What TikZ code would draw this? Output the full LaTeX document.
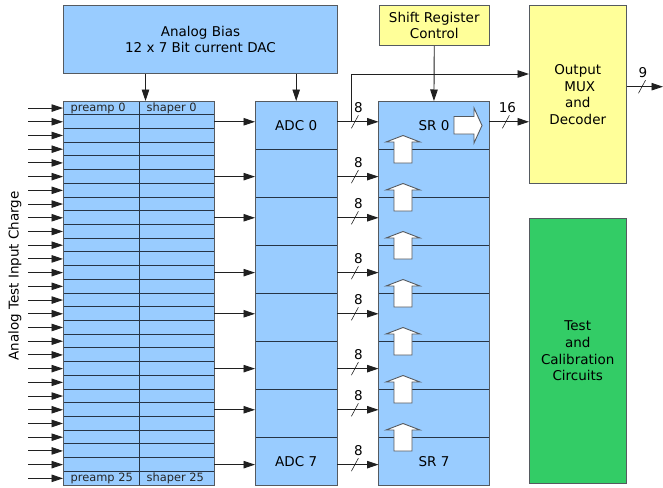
\documentclass[tikz,border=0pt]{standalone}
\usepackage{fontspec}
\setmainfont{DejaVu Sans}
\usetikzlibrary{arrows.meta,calc}
\definecolor{cblue}{HTML}{99CCFF}
\definecolor{cyel}{HTML}{FFFF99}
\definecolor{cgreen}{HTML}{33CC66}
\definecolor{cedge}{HTML}{555A60}
\definecolor{cgrid}{HTML}{263445}
\definecolor{cline}{HTML}{202020}
\begin{document}
\begin{tikzpicture}[x=1pt,y=-1pt,
  box/.style={draw=cedge,line width=1pt,inner sep=0pt,anchor=north west,align=center,
    font=\fontsize{13.5}{16.6}\selectfont},
  cell/.style={fill=cblue,inner sep=0pt,anchor=north west,
    minimum width=76pt,minimum height=13.7143pt},
  sect/.style={fill=cblue,inner sep=0pt,anchor=north west,minimum height=48pt},
  sep/.style={draw=cgrid,line width=0.9pt},
  frame/.style={draw=cedge,line width=1pt},
  lbl/.style={inner sep=0pt,anchor=west,text=black!85,font=\fontsize{11.4}{13}\selectfont},
  bus/.style={inner sep=0pt,font=\fontsize{13.5}{15}\selectfont},
  arr/.style={-{Triangle[length=11.5pt,width=7.5pt]},line width=0.9pt,draw=cline},
  tick/.style={line width=0.6pt,draw=cline},
  blk/.style={draw=cedge,line width=0.9pt,fill=white,line join=miter}]
\useasboundingbox (0,0) rectangle (663,487);

% top boxes
\node[box,fill=cblue,minimum width=274pt,minimum height=68pt] (bias) at (63,5)
  {Analog Bias\\12 x 7 Bit current DAC};
\node[box,fill=cyel,minimum width=110.5pt,minimum height=40pt] (src) at (378.5,5)
  {Shift Register\\Control};
\node[box,fill=cyel,minimum width=96.5pt,minimum height=178pt] (mux) at (529,5)
  {Output\\\hspace*{4pt}MUX\\and\\Decoder};
\node[box,fill=cgreen,minimum width=96.5pt,minimum height=265pt] (test) at (529,218)
  {Test\\and\\Calibration\\Circuits};

% preamp / shaper rows and input arrows
\foreach \i in {0,...,27}{
  \pgfmathsetmacro\yy{101+13.7143*\i}
  \node[cell] (pre\i) at (63,\yy) {};
  \node[cell,minimum width=75pt] (sh\i) at (139,\yy) {};
  \coordinate (in\i) at ($(pre\i.west)+(-35,0)$);
  \draw[arr] (in\i) -- (pre\i.west);
}
\foreach \i in {1,...,27}{
  \draw[sep] (pre\i.north west) -- (sh\i.north east);
}
\draw[sep] (pre0.north east) -- (pre27.south east);
\draw[frame] (pre0.north west) rectangle (sh27.south east);
\node[lbl] (lp0) at ($(pre0.west)+(7.5,0)$) {preamp 0};
\node[lbl] (ls0) at ($(sh0.west)+(7.5,0)$) {shaper 0};
\node[lbl] (lp25) at ($(pre27.west)+(7.5,0)$) {preamp 25};
\node[lbl] (ls25) at ($(sh27.west)+(7.5,0)$) {shaper 25};

% ADC and SR columns
\foreach \k in {0,...,7}{
  \pgfmathsetmacro\yy{101+48*\k}
  \node[sect,minimum width=82pt] (adc\k) at (255,\yy) {};
  \node[sect,minimum width=110.5pt] (sr\k) at (378.5,\yy) {};
}
\foreach \k in {1,...,7}{
  \draw[sep] (adc\k.north west) -- (adc\k.north east);
  \draw[sep] (sr\k.north west) -- (sr\k.north east);
}
\draw[frame] (adc0.north west) rectangle (adc7.south east);
\draw[frame] (sr0.north west) rectangle (sr7.south east);
\node[bus] (tadc0) at (adc0.center) {ADC 0};
\node[bus] (tadc7) at (adc7.center) {ADC 7};
\node[bus] (tsr0) at (sr0.center) {SR 0};
\node[bus] (tsr7) at (sr7.center) {SR 7};

% shaper -> ADC -> SR arrows with 8-bit buses
\foreach \k/\r in {0/1,1/5,2/8,3/12,4/15,5/19,6/22,7/26}{
  \draw[arr] (sh\r.east) -- (sh\r.east -| adc\k.west);
  \coordinate (b\k) at ($(sh\r.east -| adc\k.east)+(17.5,0)$);
  \draw[arr] (sh\r.east -| adc\k.east) -- (sh\r.east -| sr\k.west);
  \draw[tick] ($(b\k)+(-3.5,6.5)$) -- ($(b\k)+(3.5,-6.5)$);
  \node[bus] (n\k) at ($(b\k)+(3.5,-14)$) {8};
}

% up block arrows between SR stages
\foreach \k in {1,...,7}{
  \begin{scope}[shift={(sr\k.north west)}]
    \draw[blk] (15.5,14) -- (15.5,-7) -- (7.5,-7) -- (24.5,-13.5) -- (41.5,-7)
      -- (33.5,-7) -- (33.5,14) -- cycle;
  \end{scope}
}
% right block arrow in SR 0
\begin{scope}[shift={(sr0.north west)}]
  \draw[blk] (75.5,15.5) -- (95.5,15.5) -- (95.5,7) -- (103.5,24.5) -- (95.5,42)
    -- (95.5,33) -- (75.5,33) -- cycle;
\end{scope}

% bias arrows
\coordinate (bx) at (145.5,0);
\draw[arr] (bias.south -| bx) -- (sh0.north -| bx);
\draw[arr] (bias.south -| adc0.north) -- (adc0.north);
% shift register control
\draw[arr] (src.south) -- (sr0.north);

% branch to MUX
\coordinate (j) at ($(b0)+(-3.5,0)$);
\coordinate (lev) at (0,74);
\draw[arr] (j) |- (lev -| mux.west);

% SR0 -> MUX (16)
\draw[arr] (sh1.east -| sr0.east) -- (sh1.east -| mux.west);
\coordinate (b16) at ($(sh1.east -| sr0.east)+(16.5,0)$);
\draw[tick] ($(b16)+(-3.5,6.5)$) -- ($(b16)+(3.5,-6.5)$);
\node[bus] (n16) at ($(b16)+(1.5,-14)$) {16};

% MUX out (9)
\coordinate (out) at (663,86.7);
\draw[arr] (mux.east |- out) -- (out);
\coordinate (b9) at (642,86.7);
\draw[tick] ($(b9)+(-3.5,6.5)$) -- ($(b9)+(3.5,-6.5)$);
\node[bus] (n9) at ($(b9)+(1,-14)$) {9};

% side label
\node[bus,rotate=90] (side) at (15,276) {Analog Test Input Charge};
\end{tikzpicture}
\end{document}
